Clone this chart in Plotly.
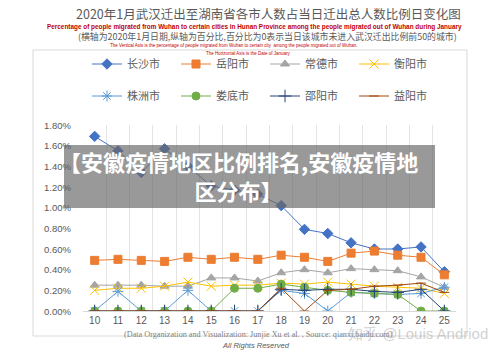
import plotly.graph_objects as go

# ---------------- data ----------------
dates = ["10", "11", "12", "13", "14", "15", "16", "17",
         "18", "19", "20", "21", "22", "23", "24", "25"]
city_names = ["长沙市", "岳阳市", "常德市", "衡阳市", "株洲市", "娄底市", "邵阳市", "益阳市"]
changsha = [1.69, 1.55, 1.34, 1.57, 1.40, 1.21, 1.17, 1.13, 1.02, 0.79, 0.75, 0.66, 0.60, 0.60, 0.62, 0.38]
yueyang = [0.49, 0.50, 0.49, 0.48, 0.52, 0.50, 0.52, 0.50, 0.54, 0.52, 0.48, 0.56, 0.58, 0.54, 0.52, 0.35]
changde = [0.25, 0.25, 0.25, 0.24, 0.24, 0.32, 0.32, 0.29, 0.37, 0.40, 0.37, 0.41, 0.40, 0.39, 0.33, 0.23]
hengyang = [0.20, 0.22, 0.22, 0.24, 0.28, 0.24, 0.25, 0.25, 0.27, 0.26, 0.28, 0.26, 0.24, 0.23, 0.22, 0.17]
zhuzhou = [0.00, 0.19, 0.00, 0.00, 0.20, 0.00, 0.00, 0.00, 0.20, 0.17, 0.00, 0.18, 0.17, 0.16, 0.17, 0.23]
loudi = [0.00, 0.00, 0.00, 0.00, 0.00, 0.00, 0.22, 0.22, 0.26, 0.23, 0.20, 0.18, 0.17, 0.16, 0.00, 0.00]
shaoyang = [0.00, 0.00, 0.00, 0.00, 0.00, 0.00, 0.00, 0.00, 0.21, 0.20, 0.21, 0.21, 0.19, 0.18, 0.21, 0.00]
yiyang = [0.00, 0.00, 0.00, 0.00, 0.00, 0.00, 0.00, 0.00, 0.22, 0.00, 0.20, 0.21, 0.24, 0.25, 0.27, 0.18]
series = [changsha, yueyang, changde, hengyang, zhuzhou, loudi, shaoyang, yiyang]
y_ticks = [0.0, 0.2, 0.4, 0.6, 0.8, 1.0, 1.2, 1.4, 1.6, 1.8]
y_tick_labels = ["0.00%", "0.20%", "0.40%", "0.60%", "0.80%", "1.00%", "1.20%", "1.40%", "1.60%", "1.80%"]

title_cn = "2020年1月武汉迁出至湖南省各市人数占当日迁出总人数比例日变化图"
title_en = ("Percentage of people migrated from Wuhan to certain cities in Hunan Province "
            "among the people migrated out of Wuhan during January")
note_cn = "(横轴为2020年1月日期,纵轴为百分比,百分比为0表示当日该城市未进入武汉迁出比例前50的城市)"
note_en1 = ("The Vertical Axis is the percentage of people migrated from Wuhan to certain city  "
            "among the people migrated out of Wuhan.")
note_en2 = "The Horizontal Axis is the Date of January"
source = "(Data Organization and Visualization: Junjie Xu et al. , Source: qianxi.baidu.com)"
rights = "All Rights Reserved"
banner = "【安徽疫情地区比例排名,安徽疫情地<br>区分布】"
watermark = "知乎 @Louis Andriod"

# ---------------- style ----------------
colors = ["#4472C4", "#ED7D31", "#A5A5A5", "#FFC000", "#5B9BD5", "#70AD47", "#264478", "#9E480E"]
symbols = ["diamond", "square", "triangle-up", "x-thin-open", "asterisk-open",
           "circle", "cross-thin-open", "line-ew-open"]
msizes = [8, 8, 8, 9, 9, 8, 9, 7]

W, H = 500, 353
L, R, T, B = 83, 44, 125, 42
PW, PH = W - L - R, H - T - B


def px(x):
    return (x - L) / PW


def py(y):
    return (H - B - y) / PH


CJK = "Noto Sans CJK SC"
fig = go.Figure()
for i, (name, vals) in enumerate(zip(city_names, series)):
    fig.add_trace(go.Scatter(
        x=dates, y=vals, name=name, mode="lines+markers",
        line=dict(color=colors[i], width=1),
        marker=dict(symbol=symbols[i], size=msizes[i], color=colors[i],
                    line=dict(color=colors[i], width=1)),
        legend="legend" if i < 4 else "legend2",
    ))

legend_common = dict(orientation="h", xanchor="left", yanchor="middle",
                     entrywidth=44, entrywidthmode="pixels", itemwidth=30,
                     font=dict(family=CJK, size=11, color="#595959"),
                     bgcolor="rgba(0,0,0,0)")
fig.update_layout(
    width=W, height=H,
    margin=dict(l=L, r=R, t=T, b=B),
    paper_bgcolor="white", plot_bgcolor="white",
    showlegend=True,
    legend=dict(x=px(87), y=py(64), **legend_common),
    legend2=dict(x=px(87), y=py(96), **legend_common),
    xaxis=dict(type="category", range=[-0.5, len(dates) - 0.5], tickson="boundaries",
               showgrid=True, gridcolor="#e4e4e4", gridwidth=1,
               showline=True, linecolor="#d9d9d9", ticks="", zeroline=False,
               tickfont=dict(family="Liberation Sans", size=10, color="#595959")),
    yaxis=dict(range=[0, 1.8], tickvals=y_ticks, showticklabels=False,
               showgrid=False, zeroline=False, showline=False, ticks=""),
)

# y tick labels placed on the y axis scale
for v, lab in zip(y_ticks, y_tick_labels):
    fig.add_annotation(text=lab, xref="paper", yref="y", x=px(73), y=v,
                       xanchor="right", yanchor="middle", showarrow=False,
                       font=dict(family="Liberation Sans", size=9.5, color="#595959"))

shapes = [
    dict(type="rect", xref="paper", yref="paper", x0=px(33), x1=px(467), y0=py(50), y1=py(336),
         line=dict(color="#d9d9d9", width=1), fillcolor="rgba(0,0,0,0)", layer="below"),
    dict(type="rect", xref="paper", yref="paper", x0=px(64), x1=px(435), y0=py(145), y1=py(208),
         line=dict(width=0), fillcolor="rgba(105,105,105,0.68)", layer="above"),
]
fig.update_layout(shapes=shapes)


def ann(text, x, y, size, color, family, xanchor="center", **kw):
    fig.add_annotation(text=text, xref="paper", yref="paper", x=px(x), y=py(y),
                       xanchor=xanchor, yanchor="middle", showarrow=False,
                       font=dict(size=size, color=color, family=family), **kw)


ann(title_cn, 268, 13.5, 12.5, "#595959", CJK)
ann("<b>" + title_en + "</b>", 254, 26.5, 6.4, "#C00000", "Liberation Sans")
ann(note_cn, 267, 36.5, 8.9, "#595959", CJK)
ann(note_en1, 233, 46, 4.5, "#C00000", "Liberation Sans")
ann(note_en2, 248, 54, 4.5, "#C00000", "Liberation Sans")
ann(source, 258, 334, 8.2, "#7f7f7f", "Liberation Serif")
ann("<i>" + rights + "</i>", 256, 345, 7.5, "#595959", "Liberation Sans")
ann("<b>" + banner + "</b>", 238, 175, 22, "white", CJK)
ann(watermark, 418, 333, 15, "rgba(170,170,170,0.55)", "Liberation Sans")

fig.write_html("out.html", config={"displayModeBar": False})
